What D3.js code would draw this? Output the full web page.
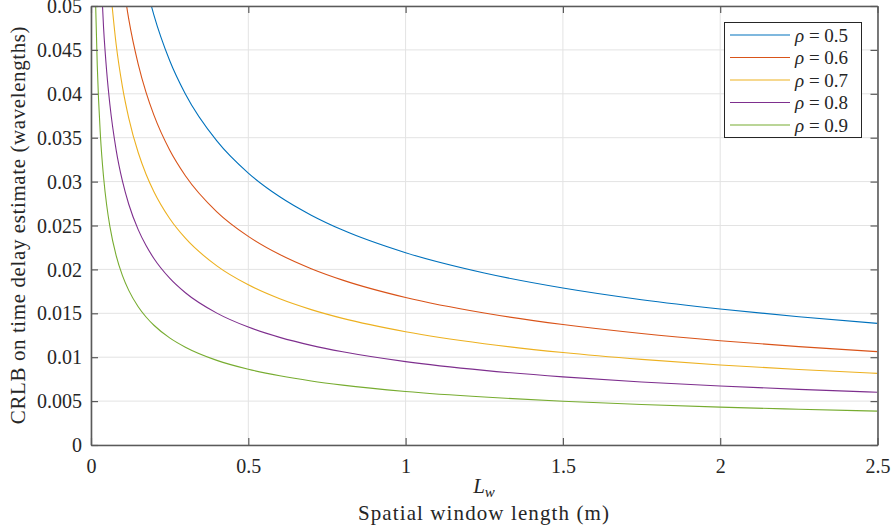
<!DOCTYPE html>
<html>
<head>
<meta charset="utf-8">
<script src="https://cdn.jsdelivr.net/npm/d3@7"></script>
<style>
  body { margin: 0; background: #fff; }
  svg { display: block; font-family: "Liberation Serif", "DejaVu Serif", serif; }
</style>
</head>
<body>
<svg id="chart" width="892" height="531"></svg>
<script>
// ---- data ----
const xValues = [0.0125, 0.015, 0.02, 0.03, 0.04, 0.05, 0.06, 0.08, 0.1, 0.12, 0.15, 0.175, 0.2, 0.25, 0.3, 0.4, 0.5, 0.6, 0.7, 0.8, 1.0, 1.25, 1.5, 1.75, 2.0, 2.25, 2.5];
const rho05 = [null, null, null, null, null, null, null, null, null, null, 0.05655, 0.05235, 0.04897, 0.0438, 0.03998, 0.03463, 0.03097, 0.02827, 0.02618, 0.02448, 0.0219, 0.01959, 0.01788, 0.01655, 0.01549, 0.0146, 0.01385];
const rho06 = [null, null, null, null, null, null, null, null, 0.05313, 0.0485, 0.04338, 0.04016, 0.03757, 0.0336, 0.03067, 0.02656, 0.02376, 0.02169, 0.02008, 0.01878, 0.0168, 0.01503, 0.01372, 0.0127, 0.01188, 0.0112, 0.01063];
const rho07 = [null, null, null, null, null, null, 0.05266, 0.04561, 0.04079, 0.03724, 0.03331, 0.03084, 0.02885, 0.0258, 0.02355, 0.0204, 0.01824, 0.01665, 0.01542, 0.01442, 0.0129, 0.01154, 0.01053, 0.00975, 0.00912, 0.0086, 0.00816];
const rho08 = [null, null, null, 0.05485, 0.0475, 0.04248, 0.03878, 0.03359, 0.03004, 0.02742, 0.02453, 0.02271, 0.02124, 0.019, 0.01734, 0.01502, 0.01343, 0.01226, 0.01135, 0.01062, 0.0095, 0.0085, 0.00776, 0.00718, 0.00672, 0.00633, 0.00601];
const rho09 = [0.05456, 0.04981, 0.04313, 0.03522, 0.0305, 0.02728, 0.0249, 0.02157, 0.01929, 0.01761, 0.01575, 0.01458, 0.01364, 0.0122, 0.01114, 0.00964, 0.00863, 0.00788, 0.00729, 0.00682, 0.0061, 0.00546, 0.00498, 0.00461, 0.00431, 0.00407, 0.00386];
const seriesNames = ["0.5", "0.6", "0.7", "0.8", "0.9"];
const seriesValues = [rho05, rho06, rho07, rho08, rho09];
const xTicks = [0, 0.5, 1, 1.5, 2, 2.5];
const xTickLabels = ["0", "0.5", "1", "1.5", "2", "2.5"];
const yTicks = [0, 0.005, 0.01, 0.015, 0.02, 0.025, 0.03, 0.035, 0.04, 0.045, 0.05];
const yTickLabels = ["0", "0.005", "0.01", "0.015", "0.02", "0.025", "0.03", "0.035", "0.04", "0.045", "0.05"];
const colors = ["#0072BD", "#D95319", "#EDB120", "#7E2F8E", "#77AC30"];

// ---- layout ----
const svg = d3.select("#chart");
const L = 91, R = 877.5, T = 6, B = 445;
const x = d3.scaleLinear().domain([0, 2.5]).range([L, R]);
const y = d3.scaleLinear().domain([0, 0.05]).range([B, T]);
const axisColor = "#5a5a5a";
const textColor = "#262626";

// grid
const grid = svg.append("g");
grid.selectAll("line.gx").data(xTicks).join("line")
  .attr("x1", d => x(d)).attr("x2", d => x(d)).attr("y1", T).attr("y2", B)
  .attr("stroke", "#e3e3e3").attr("stroke-width", 1);
grid.selectAll("line.gy").data(yTicks).join("line")
  .attr("x1", L).attr("x2", R).attr("y1", d => y(d)).attr("y2", d => y(d))
  .attr("stroke", "#e3e3e3").attr("stroke-width", 1);

// clip
svg.append("defs").append("clipPath").attr("id", "clip")
  .append("rect").attr("x", L).attr("y", T).attr("width", R - L).attr("height", B - T);

// lines
const line = d3.line()
  .defined(d => d[1] !== null)
  .x(d => x(d[0])).y(d => y(d[1]))
  .curve(d3.curveMonotoneX);
const lines = svg.append("g").attr("clip-path", "url(#clip)");
seriesValues.forEach((vals, i) => {
  const pts = xValues.map((xv, j) => [xv, vals[j]]);
  lines.append("path").attr("d", line(pts))
    .attr("fill", "none").attr("stroke", colors[i]).attr("stroke-width", 1.1);
});

// axes (box with inward ticks)
const tickLen = 7;
const axBottom = svg.append("g").attr("transform", `translate(0,${B})`)
  .call(d3.axisBottom(x).tickValues(xTicks).tickSizeInner(-tickLen).tickSizeOuter(0).tickPadding(14)
    .tickFormat((d, i) => xTickLabels[i]));
const axTop = svg.append("g").attr("transform", `translate(0,${T})`)
  .call(d3.axisTop(x).tickValues(xTicks).tickSizeInner(-tickLen).tickSizeOuter(0).tickFormat(""));
const axLeft = svg.append("g").attr("transform", `translate(${L},0)`)
  .call(d3.axisLeft(y).tickValues(yTicks).tickSizeInner(-tickLen).tickSizeOuter(0).tickPadding(9)
    .tickFormat((d, i) => yTickLabels[i]));
const axRight = svg.append("g").attr("transform", `translate(${R},0)`)
  .call(d3.axisRight(y).tickValues(yTicks).tickSizeInner(-tickLen).tickSizeOuter(0).tickFormat(""));
[axBottom, axTop, axLeft, axRight].forEach(g => {
  g.select(".domain").attr("stroke", axisColor).attr("stroke-width", 1.6);
  g.selectAll(".tick line").attr("stroke", axisColor).attr("stroke-width", 1.2);
  g.selectAll(".tick text").attr("fill", textColor)
    .style("font-family", "'Liberation Serif', serif").style("font-size", "20px");
});
axLeft.selectAll(".tick text").attr("dy", "0.33em");

// axis labels
const xl = svg.append("text").attr("x", 484).attr("y", 493).attr("text-anchor", "middle")
  .attr("fill", textColor).style("font-size", "21px");
xl.append("tspan").style("font-style", "italic").text("L");
xl.append("tspan").attr("dy", 4).style("font-style", "italic").style("font-size", "15px").text("w");
svg.append("text").attr("x", 484).attr("y", 520).attr("text-anchor", "middle")
  .attr("fill", textColor).style("font-size", "21px").style("letter-spacing", "1.1px")
  .text("Spatial window length (m)");
svg.append("text").attr("transform", "translate(25,225) rotate(-90)").attr("text-anchor", "middle")
  .attr("fill", textColor).style("font-size", "21px").style("letter-spacing", "0.6px")
  .text("CRLB on time delay estimate (wavelengths)");

// legend
const lg = svg.append("g");
lg.append("rect").attr("x", 724.5).attr("y", 22.5).attr("width", 137).attr("height", 115)
  .attr("fill", "#fff").attr("stroke", "#262626").attr("stroke-width", 1);
seriesNames.forEach((name, i) => {
  const yy = 35 + i * 22.5;
  lg.append("line").attr("x1", 730).attr("x2", 790).attr("y1", yy).attr("y2", yy)
    .attr("stroke", colors[i]).attr("stroke-width", 1.1);
  const t = lg.append("text").attr("x", 795).attr("y", yy).attr("dy", "0.35em")
    .attr("fill", textColor).style("font-size", "19px");
  t.append("tspan").style("font-style", "italic").text("ρ");
  t.append("tspan").text(" = " + name);
});
</script>
</body>
</html>
